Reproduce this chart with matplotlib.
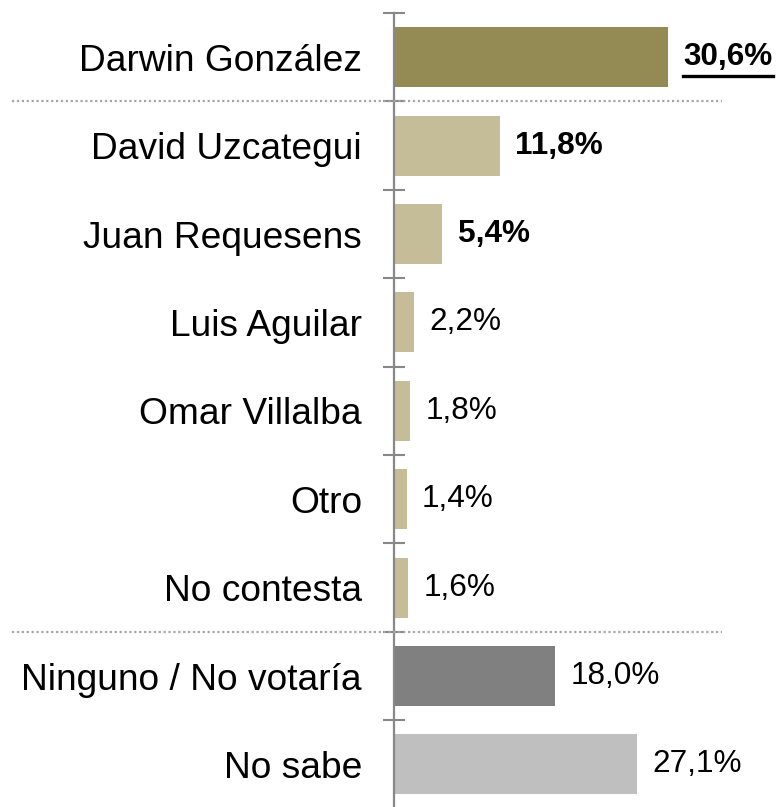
import matplotlib
matplotlib.use("Agg")
import matplotlib.pyplot as plt
from matplotlib.lines import Line2D

categories = ["Darwin González", "David Uzcategui", "Juan Requesens", "Luis Aguilar",
              "Omar Villalba", "Otro", "No contesta", "Ninguno / No votaría", "No sabe"]
values = [30.6, 11.8, 5.4, 2.2, 1.8, 1.4, 1.6, 18.0, 27.1]
value_labels = ["30,6%", "11,8%", "5,4%", "2,2%", "1,8%", "1,4%", "1,6%", "18,0%", "27,1%"]
bold_flags = [True, True, True, False, False, False, False, False, False]
colors = ["#948A54", "#C4BD97", "#C4BD97", "#C4BD97", "#C4BD97", "#C4BD97", "#C4BD97",
          "#808080", "#BFBFBF"]

plt.rcParams['font.family'] = ['Liberation Sans', 'DejaVu Sans']

W, H = 778, 807
fig = plt.figure(figsize=(W / 100, H / 100), dpi=100)
ax_left = 394 / W
ax_top = 13
ax_h = 9 * 88.4
ax = fig.add_axes([ax_left, (H - ax_top - ax_h) / H, 1 - ax_left, ax_h / H])

n = len(categories)
ypos = list(range(n))
ax.barh(ypos, values, height=0.68, color=colors, zorder=2)
ax.set_ylim(n - 0.5, -0.5)
ax.set_xlim(0, (W - 394) / 8.95)

for spine in ["top", "right", "bottom"]:
    ax.spines[spine].set_visible(False)
ax.spines["left"].set_color("#888888")
ax.spines["left"].set_linewidth(1.6)
ax.spines["left"].set_clip_on(False)

ax.set_xticks([])
ax.set_yticks(ypos)
ax.set_yticklabels(categories, fontsize=26.7)
ax.tick_params(axis="y", which="major", length=0, pad=23)
ax.set_yticks([i - 0.5 for i in range(n)], minor=True)
ax.tick_params(axis="y", which="minor", direction="inout", length=16, width=1.5, color="#888888")

fig.canvas.draw()
renderer = fig.canvas.get_renderer()
gap = 15.5 / 8.95
for i, (v, lab, b) in enumerate(zip(values, value_labels, bold_flags)):
    t = ax.text(v + gap, i, lab, va="center", ha="left", fontsize=22.7,
                fontweight="bold" if b else "normal", clip_on=False)
    if i == 0:
        fig.canvas.draw()
        bb = t.get_window_extent(renderer=renderer)
        inv = fig.transFigure.inverted()
        (x0, y0), (x1, y1) = inv.transform([(bb.x0, bb.y0), (bb.x1, bb.y0)])
        yl = (H - 75.5) / H
        fig.add_artist(Line2D([x0, x1], [yl, yl], color="black", lw=2.4,
                              transform=fig.transFigure))

# dotted separators between groups
for sep in [0.5, 6.5]:
    ydisp = ax.transData.transform((0, sep))[1]
    yf = ydisp / H
    fig.add_artist(Line2D([12 / W, 722 / W], [yf, yf], color="#A6A6A6", lw=1.6,
                          linestyle=(0, (1, 1.2)), transform=fig.transFigure))

fig.savefig("out.png", dpi=100)
